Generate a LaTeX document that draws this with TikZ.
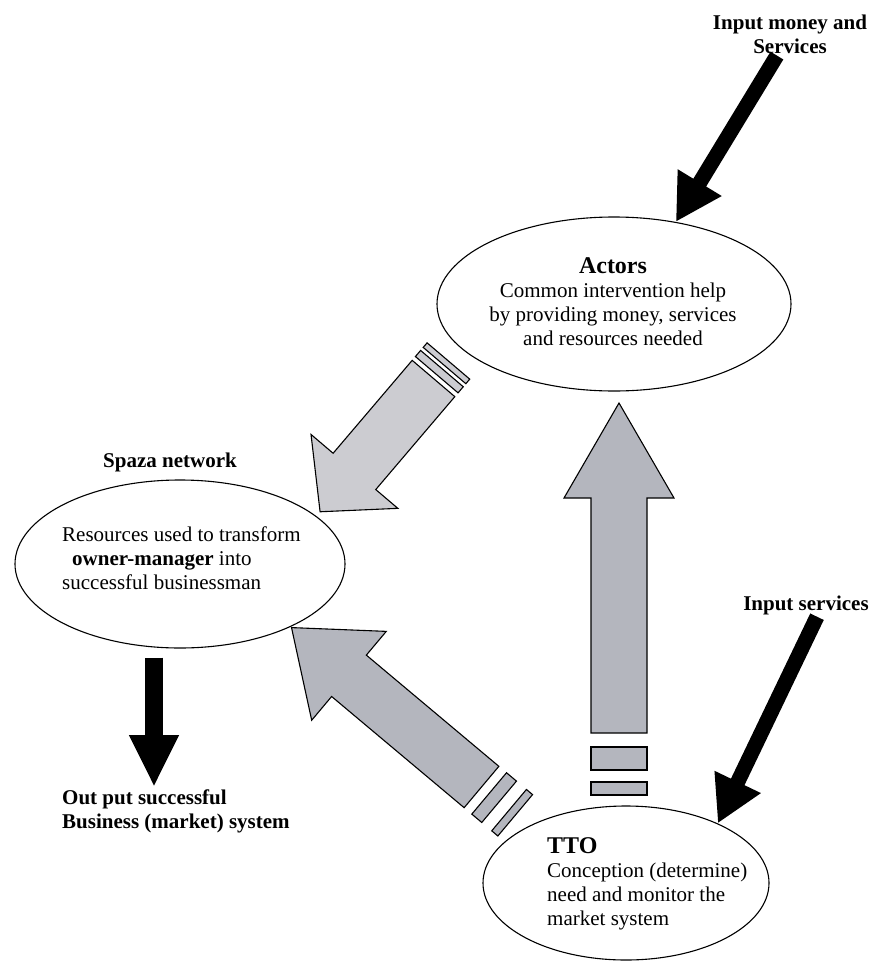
\documentclass[tikz,border=0pt]{standalone}
\usepackage{fontspec}
\setmainfont{Liberation Serif}
\usepackage{xcolor}
\usetikzlibrary{shapes.geometric, arrows.meta, positioning}

\definecolor{stipple}{RGB}{204,204,209}
\definecolor{flowgray}{RGB}{180,182,190}

\tikzset{
	bubble/.style={draw, ellipse, line width=1.1pt, inner sep=0pt},
	lbl/.style={font=\fontsize{21}{24}\selectfont\bfseries, inner sep=2pt},
	txt/.style={font=\fontsize{21}{24}\selectfont, inner sep=0pt},
	inarrow/.style={line width=15pt, -{Triangle[length=46pt,width=48pt]}},
	outarrow/.style={line width=18pt, -{Triangle[length=52pt,width=46pt]}},
	flowA/.style={draw, line width=1.1pt, fill=stipple},
	flowB/.style={draw, line width=1.1pt, fill=flowgray}
}

\begin{document}
\begin{tikzpicture}[x=1pt, y=-1pt]
	\useasboundingbox (0,0) rectangle (875,961);
	
	% The three ellipses
	\node[bubble, minimum width=354pt, minimum height=174pt] (actors) at (614,304) {};
	\node[bubble, minimum width=330pt, minimum height=168pt] (spaza) at (180,564) {};
	\node[bubble, minimum width=286pt, minimum height=154pt] (tto) at (626,883) {};
	
	% Texts inside
	\node[txt, align=center] (actorstxt) at (613,302) {{\fontsize{24}{24}\selectfont\bfseries Actors}\\Common intervention help\\by providing money, services\\and resources needed};
	\node[txt, align=left, anchor=west] (spazatxt) at (62,558) {Resources used to transform\\\hspace*{10pt}\textbf{owner-manager} into\\successful businessman};
	\node[txt, align=left, anchor=west] (ttotxt) at (547,884) {{\fontsize{24}{24}\selectfont\bfseries TTO}\\Conception (determine)\\need and monitor the\\market system};
	
	% Labels
	\node[lbl, align=center] (inmoney) at (790,34) {Input money and\\Services};
	\node[lbl] (inserv) at (806,605) {Input services};
	\node[lbl] (spazalbl) at (170,462) {Spaza network};
	\node[lbl, align=left, anchor=west] (output) at (60,811) {Out put successful\\Business (market) system};
	
	% Inputs and output
	\draw[inarrow] (inmoney) -- (actors.53);
	\draw[inarrow] ([xshift=11pt]inserv.south) -- (tto.33);
	\coordinate (outtip) at (154,787);
	\draw[outarrow] ([yshift=-9pt]outtip |- spaza.south) -- (outtip);
	
	% Actors -> Spaza network
	\coordinate (tailA) at (433.5,378.5);
	\begin{scope}[shift={(tailA)}, rotate=-130.4]
		\draw[flowA] (0,-28) -- (122,-28) -- (122,-57) -- (175,0) -- (122,57) -- (122,28) -- (0,28) -- cycle;
		\draw[flowA] (-13,-28) rectangle (-5,28);
		\draw[flowA] (-23,-28) rectangle (-17,28);
	\end{scope}
	
	% TTO -> Actors
	\coordinate (tailB) at (619,733);
	\begin{scope}[shift={(tailB)}, rotate=90]
		\draw[flowB] (0,-28) -- (235,-28) -- (235,-55) -- (330,0) -- (235,55) -- (235,28) -- (0,28) -- cycle;
		\draw[flowB] (-37,-28) rectangle (-14,28);
		\draw[flowB] (-62,-28) rectangle (-49,28);
	\end{scope}
	
	% TTO -> Spaza network
	\coordinate (tailC) at (481.5,787);
	\begin{scope}[shift={(tailC)}, rotate=140]
		\draw[flowB] (0,-27) -- (173,-27) -- (173,-58) -- (248,0) -- (173,58) -- (173,27) -- (0,27) -- cycle;
		\draw[flowB] (-23,-27) rectangle (-10,27);
		\draw[flowB] (-44,-27) rectangle (-36,27);
	\end{scope}
	
\end{tikzpicture}
\end{document}
